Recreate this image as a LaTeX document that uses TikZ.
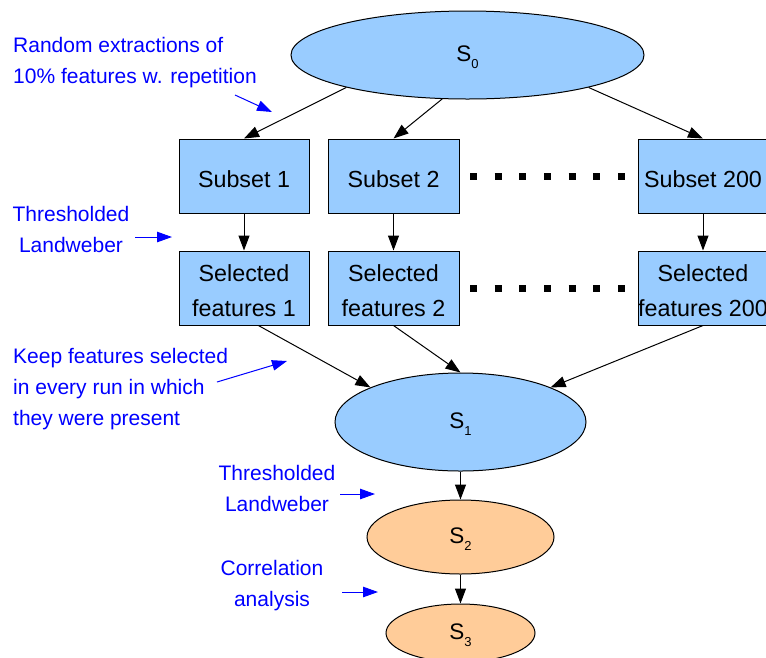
\documentclass[tikz,border=0pt]{standalone}
\usepackage{fontspec}
\setmainfont{Liberation Sans}
\usetikzlibrary{arrows.meta,shapes.geometric}
\definecolor{lblue}{HTML}{99CCFF}
\definecolor{lorange}{HTML}{FFCC99}
\definecolor{ablue}{HTML}{0000FF}
\newcommand{\sub}[1]{\raisebox{-0.55ex}{\fontsize{13}{13}\selectfont #1}}
\newcommand{\btext}[1]{\raisebox{-4pt}[\height][\depth]{\begin{tabular}{@{}c@{}}#1\end{tabular}}}
\newcommand{\slabel}[2]{\raisebox{-2pt}[\height][\depth]{S\sub{#2}}}
\tikzset{
  box/.style={draw=black, fill=lblue, line width=1pt, minimum width=130pt, minimum height=74pt, inner sep=0pt, align=center, font=\fontsize{23.3}{35}\selectfont},
  ell/.style={ellipse, draw=black, line width=1pt, inner sep=0pt, font=\fontsize{22.5}{27}\selectfont},
  conn/.style={draw=black, line width=1pt, -{Triangle[length=15pt,width=11pt]}},
  note/.style={text=ablue, inner sep=0pt, font=\fontsize{21}{31}\selectfont},
  noteArrow/.style={draw=ablue, line width=1pt, -{Triangle[length=15pt,width=10.5pt]}},
  dotline/.style={draw=black, line width=7pt, dash pattern=on 7pt off 17.67pt}
}
\begin{document}
\begin{tikzpicture}[x=1pt,y=-1pt]
\useasboundingbox (0,0) rectangle (766,657);
% ellipses
\node[ell, fill=lblue, minimum width=353pt, minimum height=88pt] (S0) at (467.5,55) {\slabel{S}{0}};
\node[ell, fill=lblue, minimum width=251pt, minimum height=98pt] (S1) at (460.5,422) {\slabel{S}{1}};
\node[ell, fill=lorange, minimum width=187pt, minimum height=74pt] (S2) at (460.5,537) {\slabel{S}{2}};
\node[ell, fill=lorange, minimum width=149pt, minimum height=58pt] (S3) at (460.5,633) {\slabel{S}{3}};
% boxes
\node[box] (sub1) at (244,176) {\btext{Subset 1}};
\node[box, minimum width=131pt] (sub2) at (393.5,176) {\btext{Subset 2}};
\node[box] (sub200) at (703,176) {\btext{Subset 200}};
\node[box] (sel1) at (244,288) {\btext{Selected\\features 1}};
\node[box, minimum width=131pt] (sel2) at (393.5,288) {\btext{Selected\\features 2}};
\node[box] (sel200) at (703,288) {\btext{Selected\\features 200}};
% dots
\draw[dotline] ([xshift=10.5pt]sub2.east) -- (sub200.west);
\draw[dotline] ([xshift=10.5pt]sel2.east) -- (sel200.west);
% connectors
\draw[conn] (S0.195) -- (sub1.north);
\draw[conn] (S0.240) -- (sub2.north);
\draw[conn] (S0.345.5) -- (sub200.north);
\draw[conn] (sub1) -- (sel1);
\draw[conn] (sub2) -- (sel2);
\draw[conn] (sub200) -- (sel200);
\draw[conn] (sel1.291) -- (S1.159);
\draw[conn] (sel2.south) -- (S1.north);
\draw[conn] (sel200.south) -- (S1.21);
\draw[conn] (S1) -- (S2);
\draw[conn] (S2) -- (S3);
% annotations
\node[note, anchor=west, align=left] (n1) at (13,62.5) {Random extractions of\\10\% features w. repetition};
\node[note, align=center] (n2) at (71,229.5) {Thresholded\\Landweber};
\node[note, anchor=west, align=left] (n3) at (13,389) {Keep features selected\\in every run in which\\they were present};
\node[note, align=center] (n4) at (277,488.5) {Thresholded\\Landweber};
\node[note, align=center] (n5) at (272,585.5) {Correlation\\analysis};
\coordinate (a1s) at (235,95); \coordinate (a1e) at (272,112);
\coordinate (a2s) at (135,237); \coordinate (a2e) at (172,237);
\coordinate (a3s) at (217,382); \coordinate (a3e) at (287,361);
\coordinate (a4s) at (340,494); \coordinate (a4e) at (375,494);
\coordinate (a5s) at (342,592); \coordinate (a5e) at (378,592);
\draw[noteArrow] (a1s) -- (a1e);
\draw[noteArrow] (a2s) -- (a2e);
\draw[noteArrow] (a3s) -- (a3e);
\draw[noteArrow] (a4s) -- (a4e);
\draw[noteArrow] (a5s) -- (a5e);
\end{tikzpicture}
\end{document}
